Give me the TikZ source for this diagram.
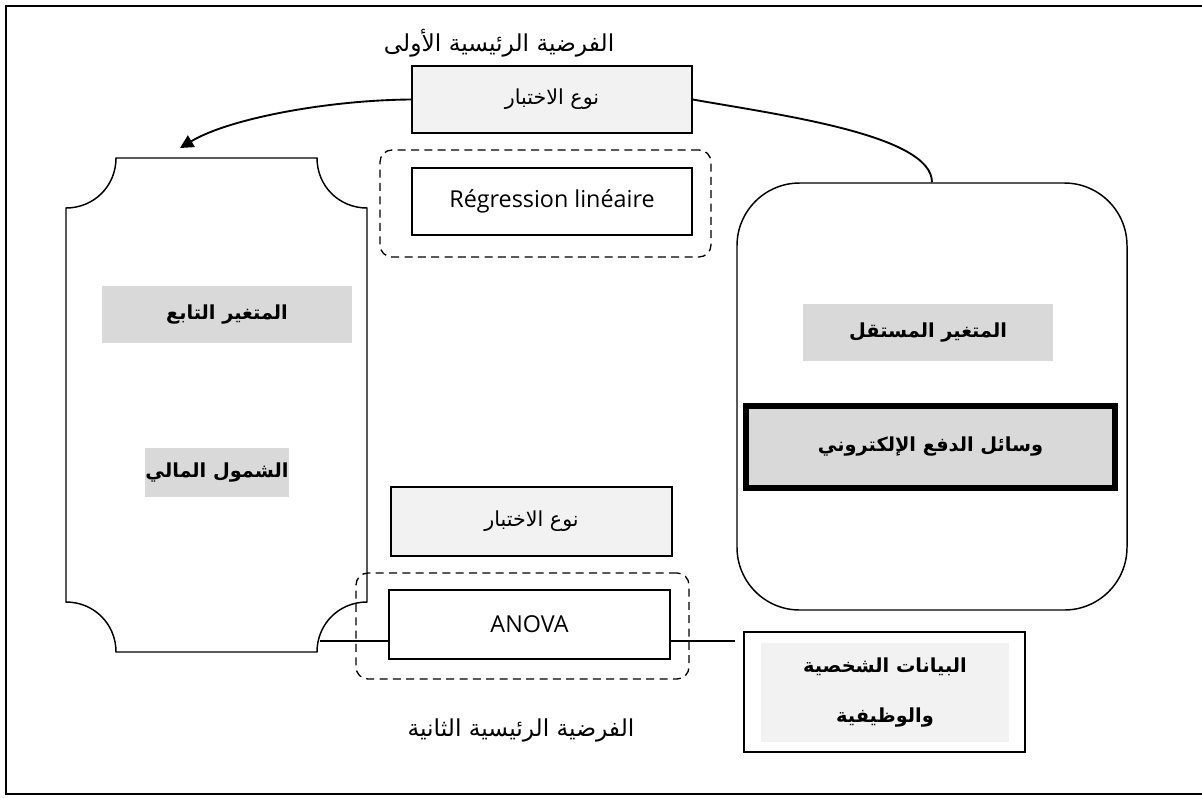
\documentclass[tikz,border=0pt]{standalone}
\usepackage{fontspec}
\setmainfont{Open Sans}
\newfontfamily\arabicfont[Script=Arabic]{DejaVu Sans}
\TeXXeTstate=1
\usetikzlibrary{arrows.meta}
\definecolor{boxgray}{HTML}{F2F2F2}
\definecolor{labelgray}{HTML}{D9D9D9}
\newcommand{\artext}[1]{{\arabicfont\beginR #1\endR}}

\tikzset{
  testbox/.style={draw, fill=boxgray, minimum width=210pt, minimum height=50.25pt, inner sep=0pt, font=\fontsize{15.5}{18}\selectfont},
  methodbox/.style={draw, fill=white, minimum width=210pt, minimum height=50.25pt, inner sep=0pt, font=\fontsize{17.5}{20}\selectfont},
  hypgroup/.style={draw, line width=1pt, dash pattern=on 6pt off 4pt, rounded corners=9pt, inner sep=0pt},
  varlabel/.style={fill=labelgray, inner sep=0pt, font=\fontsize{14.5}{17}\selectfont\bfseries},
  hyptitle/.style={font=\fontsize{17.5}{20}\selectfont},
}

\begin{document}
\begin{tikzpicture}[x=0.75pt, y=-0.75pt, line width=1.1pt]
\useasboundingbox (0,0) rectangle (1202,797);
% outer frame
\draw (6,6) rectangle (1210,794);

% first hypothesis
\node[hyptitle] (title1) at (499,43) {\artext{الفرضية الرئيسية الأولى}};
\node[testbox] (test1) at (552,99.5) {\artext{نوع الاختبار}};
\node[hypgroup, minimum width=248.25pt, minimum height=80.25pt] (grp1) at (545.5,203.5) {};
\node[methodbox] (reg) at (552,201.5) {Régression linéaire};

% dependent variable
\draw (116,158) -- (317,158) .. controls (317,186) and (339,208) .. (367,208)
  -- (367,602) .. controls (339,602) and (317,624) .. (317,652)
  -- (116,652) .. controls (116,624) and (94,602) .. (66,602)
  -- (66,208) .. controls (94,208) and (116,186) .. cycle;
\coordinate (deptop) at (180,148);
\coordinate (linkL) at (320,641);
\node[varlabel, minimum width=187.5pt, minimum height=42.75pt] (depvar) at (227,314.5) {\artext{المتغير التابع}};
\node[varlabel, minimum width=102pt, minimum height=36.75pt] (depname) at (217,472.5) {\artext{الشمول المالي}};

% independent variable
\node[draw, rounded corners=47pt, minimum width=292.5pt, minimum height=320.25pt] (indep) at (932,396.5) {};
\node[varlabel, minimum width=187.5pt, minimum height=42.75pt] (indepvar) at (928,332.5) {\artext{المتغير المستقل}};
\node[varlabel, draw, line width=4.5pt, minimum width=276.75pt, minimum height=61.5pt] (payment) at (930.5,447) {\artext{وسائل الدفع الإلكتروني}};

% second hypothesis
\node[testbox, minimum width=210.75pt, minimum height=51.75pt] (test2) at (531.5,521.5) {\artext{نوع الاختبار}};
\node[hypgroup, minimum width=249.75pt, minimum height=79.5pt] (grp2) at (522.5,626) {};
\node[methodbox, minimum width=210.75pt, minimum height=51.75pt] (anova) at (529.5,624.5) {ANOVA};
\node[hyptitle] (title2) at (521,730) {\artext{الفرضية الرئيسية الثانية}};

% personal data
\node[draw, fill=white, minimum width=210.75pt, minimum height=90pt] (persdata) at (884.5,692) {};
\node[fill=boxgray, minimum width=186pt, minimum height=74.25pt, align=center, font=\fontsize{14.5}{38}\selectfont\bfseries] (perstext) at (885,692.5)
  {\artext{البيانات الشخصية}\\\artext{والوظيفية}};
\coordinate (linkR) at (735,641);

% links
\draw[line width=1.4pt, -{Triangle[length=10pt,width=10pt]}] (test1.west) .. controls (330,100) and (230,118) .. (deptop);
\draw[line width=1.4pt] (test1.east) .. controls (780,115) and (932,135) .. (indep.north);
\draw (linkL) -- (linkL -| anova.west);
\draw (anova.east |- linkR) -- (linkR);
\end{tikzpicture}
\end{document}
